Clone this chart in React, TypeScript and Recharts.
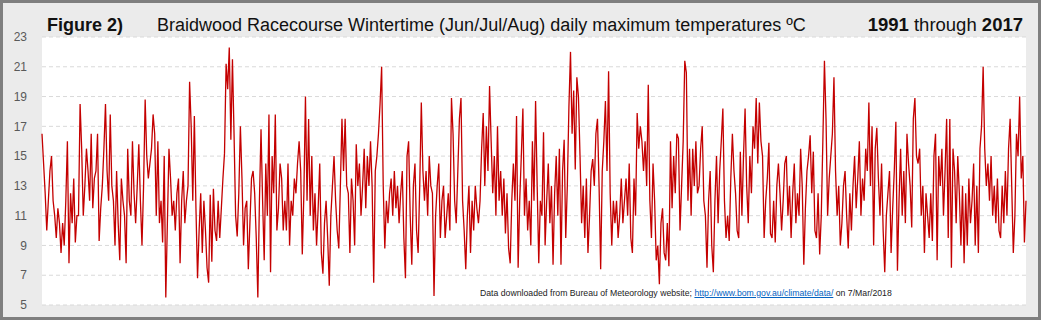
import React from 'react';
import { LineChart, Line, XAxis, YAxis, CartesianGrid } from 'recharts';

// winter (Jun/Jul/Aug) daily max temps, one array per year
const w1991 = [16.5, 14.5, 12.5, 10, 12, 14, 15, 12, 11, 9.5, 11.5, 10.5, 8.5, 10.5, 9, 12, 16, 7.8, 12.5, 10.5, 13.5, 9.2, 11];
const w1992 = [11, 18.5, 15.5, 11, 13, 15.5, 14, 12, 16.5, 11.5, 13.5, 14, 16.5, 9.3, 11.5, 13, 15.5, 18.5, 14, 12, 17.8, 13, 12];
const w1993 = [9, 14, 10.5, 8, 13.5, 12, 11, 7.8, 15.5, 12, 11, 16, 12.5, 10.5, 13, 15.8, 12, 9, 13, 18.8, 15, 13.5, 14.5];
const w1994 = [15.5, 17.8, 16.5, 11, 16, 10.5, 12, 9.2, 15, 5.5, 10.5, 15.5, 13.5, 11, 12, 10, 12.5, 13.5, 7.8, 12, 14, 10.5, 12];
const w1995 = [13, 20, 17, 12, 17.7, 11.5, 6.8, 10, 12.5, 8.5, 12, 10, 7.5, 6.5, 12.4, 7.9, 12.8, 10, 9.3, 12, 9.5, 11.5, 13.5];
const w1996 = [15.2, 21.2, 19.5, 22.3, 16.1, 21.5, 16.5, 11, 9.6, 12.5, 17, 13.5, 9, 11.5, 12, 7.4, 10.5, 13.5, 14, 12.5, 9.5, 5.5, 12];
const w1997 = [16.8, 12, 8, 14.5, 11, 17.8, 7.2, 15, 12.5, 17.8, 10, 11.5, 14.5, 13.5, 10, 12, 10, 14.5, 9, 12, 11, 13.5, 12.5];
const w1998 = [14.5, 16, 14, 8.4, 12.5, 19, 12, 17.5, 11, 15, 10, 12.5, 9, 11.5, 14.5, 8.5, 7.1, 10.5, 12, 9.5, 6.3, 11, 13];
const w1999 = [15, 12, 10, 8.8, 13, 17.5, 14, 17.5, 13, 12.5, 8.5, 13.5, 12, 9, 15.8, 13, 14.5, 11, 13, 15.5, 11.5, 15, 13];
const w2000 = [16, 13, 6.5, 14, 15, 16.5, 18.5, 21, 13, 8.8, 12, 10.5, 12.5, 13.5, 11, 14, 11.5, 13, 10.5, 12.5, 14, 9.5, 6.8];
const w2001 = [15, 16, 11, 7.7, 13, 14.5, 10, 8.5, 13, 18.6, 14, 12, 14, 11, 15, 13, 12.5, 5.6, 11, 13, 14.5, 9.5, 12];
const w2002 = [13, 9.5, 11, 12.5, 10, 18.9, 16.5, 12, 10.5, 14, 17.5, 18.9, 12, 10, 7.4, 11, 13, 8.5, 12, 10, 13, 11.5, 10.5];
const w2003 = [12, 15.5, 17.9, 13, 17, 14, 19.7, 16, 12.5, 15, 11, 17, 12, 14, 11, 13.5, 9.8, 12.5, 8.8, 7.8, 12, 14.5, 12];
const w2004 = [17.7, 7.5, 12, 15, 18.2, 11, 13.5, 10, 12, 9, 16, 12, 18.7, 13, 7.8, 12, 11, 16.6, 9, 12, 14.5, 10.5, 13];
const w2005 = [7.7, 12.5, 15, 11, 15.5, 7.7, 14, 16.1, 9.5, 13, 18.3, 22, 16.5, 19.4, 14.1, 20.3, 19, 15, 10.5, 13, 9.5, 13.5, 8.5];
const w2006 = [11, 14, 14.8, 13, 16.5, 17.5, 13, 7.4, 14, 16, 18.7, 14, 20.7, 12.5, 9, 12, 10.5, 12, 9.5, 11, 13.5, 10.5, 12];
const w2007 = [13.5, 11, 14.5, 9.5, 8.5, 13.5, 11, 17.9, 15.5, 17, 16, 14, 16, 13, 19.8, 12, 9.5, 14.5, 12, 8, 9, 6.4, 10.5];
const w2008 = [11.5, 8.5, 8, 10.5, 7.6, 16, 11.5, 15, 12.5, 16.5, 16.2, 10, 13, 16, 21.4, 20.6, 12, 15.5, 11, 15.5, 13, 16, 12.5];
const w2009 = [13, 15.5, 17, 12, 11, 7.5, 12, 14, 9, 7.2, 12, 15, 10.5, 14, 16, 18.2, 12, 9.5, 11, 9.3, 13.5, 16.5, 14];
const w2010 = [12.5, 10, 9.5, 15.3, 11, 15, 18.2, 13, 10.5, 15, 12.5, 17, 15.5, 18.9, 14.5, 18.6, 16, 15, 9.5, 12, 13.5, 15.9, 9.8];
const w2011 = [9.5, 12, 9.2, 13, 14.5, 12.5, 10, 12, 14.5, 15, 11, 13, 9.5, 12.5, 14.5, 10.5, 12.5, 11, 15.5, 13, 7.7, 11.5, 14];
const w2012 = [15, 16.4, 12.5, 15.3, 10, 9.5, 12.5, 8.4, 11, 16, 21.4, 17.5, 11, 13.5, 15, 16.5, 20.3, 14, 11, 13, 9, 10.5, 13];
const w2013 = [14, 11, 8.8, 12.5, 10, 13, 15, 11.5, 13.5, 16, 11, 13.5, 12, 15.5, 14, 18.6, 13, 17, 9, 15.5, 16.9, 13.5, 11];
const w2014 = [14.5, 10, 7.2, 11, 12.5, 14, 8.5, 11.5, 14, 17.3, 7.3, 12, 15.5, 11, 14, 10.5, 16.5, 14.5, 13, 10.2, 17.5, 18.9, 15];
const w2015 = [14.5, 15.5, 11, 13, 8.5, 12.5, 11, 9.5, 12.5, 9.3, 15, 16.5, 8, 15, 13, 15.5, 11, 14, 17.5, 9.5, 17.5, 7.5, 15.5];
const w2016 = [14, 10.5, 15, 12.5, 9, 13, 7.8, 12.5, 9, 13.5, 10.5, 12, 14.5, 9, 13, 8.5, 15.5, 17, 21, 15.5, 13, 14.5, 12];
const w2017 = [15, 11, 13, 10.5, 13.5, 10, 9.5, 13, 10.5, 14, 11, 15.5, 17.5, 13, 8.5, 11, 16.5, 15, 19, 13.5, 15, 9.2, 12];

const winters = [
  w1991, w1992, w1993, w1994, w1995, w1996, w1997, w1998, w1999, w2000,
  w2001, w2002, w2003, w2004, w2005, w2006, w2007, w2008, w2009, w2010,
  w2011, w2012, w2013, w2014, w2015, w2016, w2017,
];

const yTicks = [5, 7, 9, 11, 13, 15, 17, 19, 21, 23];

const data = winters.flat().map((t, i) => ({ i, t }));

const FONT = 'Arial, "Liberation Sans", sans-serif';

export default function App() {
  return (
    <div
      style={{
        position: 'absolute',
        left: 0,
        top: 0,
        width: 1041,
        height: 320,
        boxSizing: 'border-box',
        border: '3px solid #7f7f7f',
        background: '#ebebeb',
        fontFamily: FONT,
      }}
    >
      <div style={{ position: 'absolute', left: -3, top: -3 }}>
        <LineChart
          width={1041}
          height={322}
          data={data}
          margin={{ top: 37, right: 15, bottom: 17, left: 0 }}
        >
          <CartesianGrid
            vertical={false}
            fill="#ffffff"
            stroke="#d9d9d9"
            strokeDasharray="4 3"
          />
          <XAxis dataKey="i" type="number" domain={[0, data.length - 1]} hide />
          <YAxis
            domain={[5, 23]}
            ticks={yTicks}
            width={42}
            axisLine={false}
            tickLine={false}
            tickSize={0}
            tickMargin={15}
            interval={0}
            tick={{ fill: '#595959', fontSize: 12, fontFamily: FONT }}
          />
          <Line
            type="linear"
            dataKey="t"
            stroke="#c40000"
            strokeWidth={1.3}
            dot={false}
            isAnimationActive={false}
          />
        </LineChart>
      </div>
      <div
        style={{
          position: 'absolute',
          left: 44,
          top: 13,
          fontSize: 18,
          lineHeight: '18px',
          fontWeight: 700,
          color: '#111',
        }}
      >
        Figure 2)
      </div>
      <div
        style={{
          position: 'absolute',
          left: 154,
          top: 13,
          fontSize: 18,
          lineHeight: '18px',
          color: '#111',
          whiteSpace: 'nowrap',
        }}
      >
        Braidwood Racecourse Wintertime (Jun/Jul/Aug) daily maximum temperatures ºC
      </div>
      <div
        style={{
          position: 'absolute',
          right: 15,
          top: 13,
          fontSize: 18.5,
          lineHeight: '18px',
          color: '#111',
          whiteSpace: 'nowrap',
        }}
      >
        <b>1991</b> through <b>2017</b>
      </div>
      <div
        style={{
          position: 'absolute',
          left: 477,
          top: 284,
          fontSize: 8.7,
          lineHeight: '12px',
          color: '#222',
          whiteSpace: 'nowrap',
        }}
      >
        Data downloaded from Bureau of Meteorology website;{' '}
        <span style={{ color: '#0563c1', textDecoration: 'underline' }}>
          http://www.bom.gov.au/climate/data/
        </span>
        {'  '}on 7/Mar/2018
      </div>
    </div>
  );
}
